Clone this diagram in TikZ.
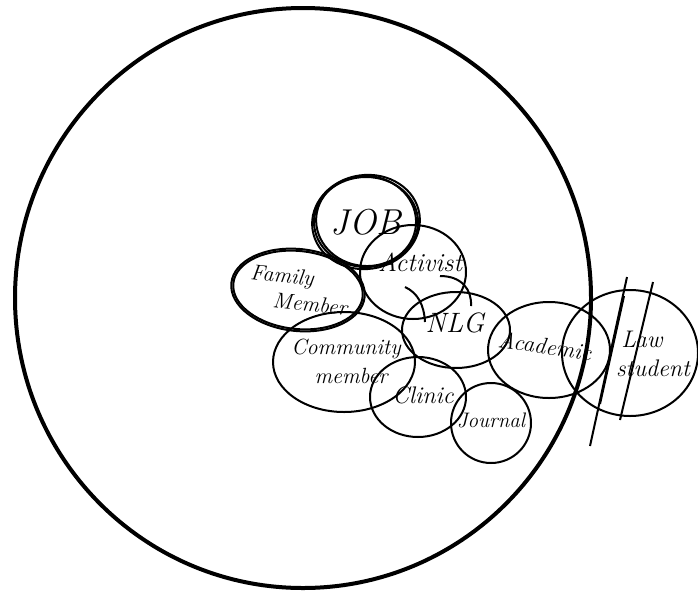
\documentclass[tikz,border=0pt]{standalone}
\usetikzlibrary{shapes.geometric}
\begin{document}
\begin{tikzpicture}[x=1pt,y=-1pt,
  bubble/.style={ellipse, draw, line width=2pt, inner sep=0pt},
  stroke/.style={line width=2pt},
  ring/.style={line width=4pt},
  lbl/.style={inner sep=0pt, font=\itshape\fontsize{#1}{#1}\selectfont}]
\useasboundingbox (0,0) rectangle (698,592);

% outer circle
\draw[ring] (303,298) ellipse [x radius=288pt, y radius=290pt];

% bubbles
\node[bubble, minimum width=142pt, minimum height=100pt] (comm) at (344,362) {};
\node[bubble, minimum width=130pt, minimum height=78pt, rotate=-6] (fam) at (298,290) {};
\draw[stroke, rotate around={-6:(298,290)}] (298,290) ellipse [x radius=67pt, y radius=41pt];
\node[bubble, minimum width=106pt, minimum height=94pt] (act) at (413,272) {};
\node[bubble, minimum width=108pt, minimum height=76pt] (nlg) at (456,330) {};
\node[bubble, minimum width=96pt, minimum height=80pt] (clin) at (418,397) {};
\node[bubble, minimum width=80pt, minimum height=80pt] (jour) at (491,423) {};
\node[bubble, minimum width=122pt, minimum height=96pt] (acad) at (549,350) {};
\node[bubble, minimum width=136pt, minimum height=126pt] (law) at (630,353) {};
\node[bubble, minimum width=104pt, minimum height=90pt] (job) at (366,222) {};
\draw[stroke, rotate around={8:(366,222)}] (366,222) ellipse [x radius=54pt, y radius=47pt];
\draw[stroke, rotate around={-5:(366,222)}] (366,221) ellipse [x radius=50pt, y radius=45pt];

% labels
\node[lbl=36] (jobl) at (366,222) {JOB};
\node[lbl=22, rotate=-6] (faml1) at (282,277) {Family};
\node[lbl=22, rotate=-6] (faml2) at (310,304) {Member};
\node[lbl=26] (actl) at (420,262) {Activist};
\node[lbl=28] (nlgl) at (455,323) {NLG};
\node[lbl=22] (comml1) at (346,349) {Community};
\node[lbl=22] (comml2) at (351,376) {member};
\node[lbl=24] (clinl) at (423,395) {Clinic};
\node[lbl=21] (jourl) at (491,420) {Journal};
\node[lbl=23, rotate=-8] (acadl) at (545,346) {Academic};
\node[lbl=24] (lawl1) at (642,339) {Law};
\node[lbl=24] (lawl2) at (653,368) {student};

% curved strokes inside Activist
\coordinate (a1) at (405,287);
\coordinate (a2) at (425,322);
\coordinate (b1) at (440,276);
\coordinate (b2) at (471,306);
\draw[stroke] (a1) .. controls (418,293) and (424,305) .. (a2);
\draw[stroke] (b1) .. controls (462,276) and (472,290) .. (b2);

% strike lines across Law student
\coordinate (s1) at (627,277);
\coordinate (s2) at (590,446);
\coordinate (t1) at (624,296);
\coordinate (t2) at (600,404);
\coordinate (u1) at (653,282);
\coordinate (u2) at (620,420);
\draw[stroke] (s1) -- (s2);
\draw[stroke] (t1) -- (t2);
\draw[stroke] (u1) -- (u2);
\end{tikzpicture}
\end{document}
